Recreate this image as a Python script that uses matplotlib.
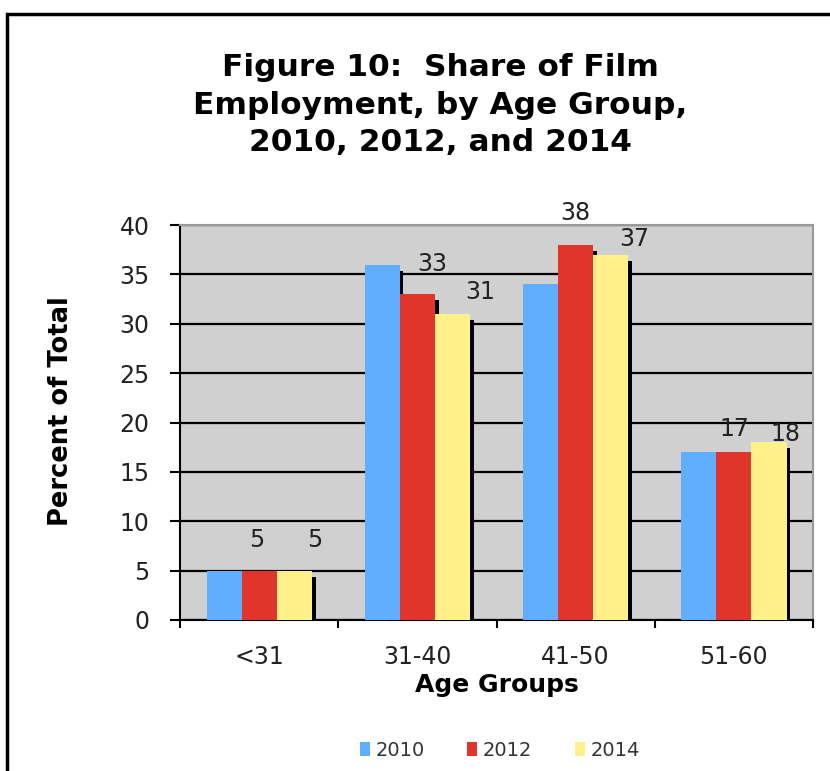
import numpy as np
import matplotlib
matplotlib.use("Agg")
import matplotlib.pyplot as plt
import matplotlib.patheffects as pe
from matplotlib.patches import Patch, Rectangle

# data
groups = ["<31", "31-40", "41-50", "51-60"]
years = ["2010", "2012", "2014"]
share_2010 = [5, 36, 34, 17]
share_2012 = [5, 33, 38, 17]
share_2014 = [5, 31, 37, 18]
colors = ["#5FAEFF", "#E0352B", "#FFF08A"]

# label offsets (points) mimicking Excel's placement of the 2012 / 2014 labels
off_2012 = [(-2, 22), (11, 22), (0, 23), (0, 17)]
off_2014 = [(15, 22), (20, 16), (17, 11), (12, 6)]

fig = plt.figure(figsize=(8.30, 7.71), dpi=100)
ax = fig.add_axes([0.217, 0.196, 0.7625, 0.512])

ax.set_facecolor("#D0D0D0")
x = np.arange(len(groups))
w = 0.222
shadow = [pe.SimplePatchShadow(offset=(2.6, -4.3), shadow_rgbFace="black", alpha=1.0), pe.Normal()]

series = [share_2010, share_2012, share_2014]
for i, vals in enumerate(series):
    ax.bar(x + (i - 1) * w, vals, w, color=colors[i], linewidth=0,
           path_effects=shadow, zorder=3)

for vals, offs, i in [(share_2012, off_2012, 1), (share_2014, off_2014, 2)]:
    for k, v in enumerate(vals):
        ax.annotate(str(v), (x[k] + (i - 1) * w, v), xytext=offs[k],
                    textcoords="offset points", ha="center", va="center",
                    fontsize=17, color="#222222", zorder=5)

ax.set_xlim(-0.5, len(groups) - 0.5)
ax.set_ylim(0, 40)
ax.set_yticks(range(0, 41, 5))
ax.yaxis.grid(True, color="black", linewidth=1.6, zorder=1)
ax.set_axisbelow(True)

ax.set_xticks(x)
ax.set_xticklabels(groups)
ax.set_xticks(np.arange(-0.5, len(groups), 1.0), minor=True)
ax.tick_params(axis="x", which="major", length=0, pad=18, labelsize=17, labelcolor="#222222")
ax.tick_params(axis="x", which="minor", length=6, width=1.5, direction="out")
ax.tick_params(axis="y", length=7, width=1.5, labelsize=17, pad=15, labelcolor="#222222")

for s in ["top", "right"]:
    ax.spines[s].set_color("#999999")
    ax.spines[s].set_linewidth(1.5)
for s in ["left", "bottom"]:
    ax.spines[s].set_color("black")
    ax.spines[s].set_linewidth(1.5)

fig.text(61 / 830, 1 - 411 / 771, "Percent of Total", rotation=90, ha="center", va="center",
         fontsize=18.5, fontweight="bold")
fig.text(497 / 830, 1 - 685 / 771, "Age Groups", ha="center", va="center",
         fontsize=18, fontweight="bold")

fig.text(440 / 830, 1 - 105 / 771,
         "Figure 10:  Share of Film\nEmployment, by Age Group,\n2010, 2012, and 2014",
         ha="center", va="center", fontsize=22.5, fontweight="bold", linespacing=1.38)

handles = [Patch(facecolor=c, edgecolor="none") for c in colors]
fig.legend(handles, years, loc="center", bbox_to_anchor=(500 / 830, 1 - 750 / 771),
           ncol=3, frameon=False, fontsize=14, handlelength=0.5, handleheight=0.7,
           handletextpad=0.3, columnspacing=2.2, labelcolor="#333333")

# outer frame of the original chart (cut off at right and bottom)
fig.patches.append(Rectangle((0.0084, -0.1), 1.2, 1.082, transform=fig.transFigure,
                             fill=False, edgecolor="black", linewidth=2.5))

fig.savefig("out.png", dpi=100)
